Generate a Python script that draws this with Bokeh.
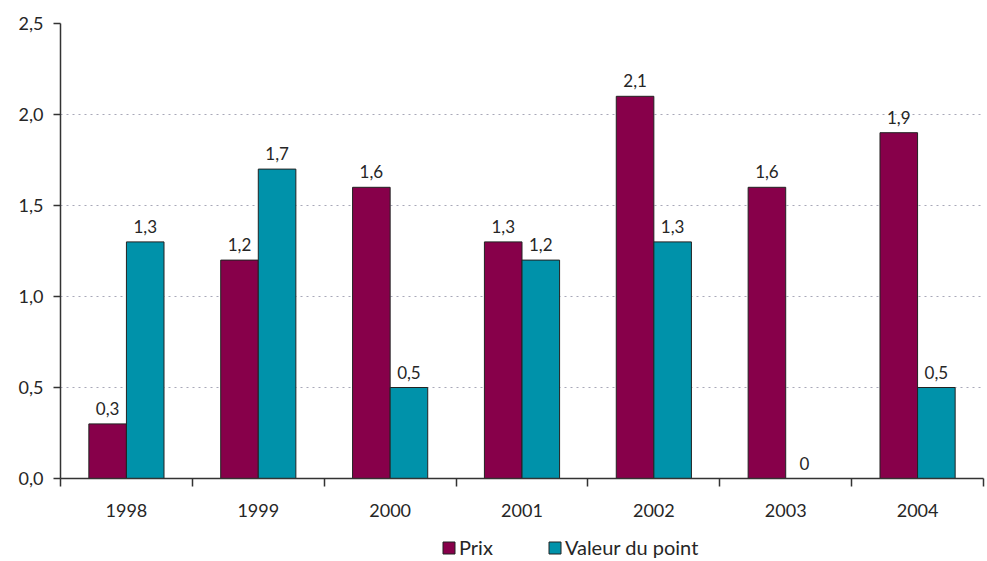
from bokeh.plotting import figure
from bokeh.layouts import column
from bokeh.models import ColumnDataSource, FixedTicker, Range1d, Legend, LegendItem
from bokeh.embed import file_html
from bokeh.resources import INLINE
from bokeh.core.properties import value

years = ["1998", "1999", "2000", "2001", "2002", "2003", "2004"]
prix = [0.3, 1.2, 1.6, 1.3, 2.1, 1.6, 1.9]
valeur = [1.3, 1.7, 0.5, 1.2, 1.3, 0.0, 0.5]
y_ticks = [0.0, 0.5, 1.0, 1.5, 2.0, 2.5]

FONT = "Lato"
MAROON = "#87004A"
TEAL = "#0092AA"
TXT = "#262626"
BW = 0.285

def fmt(v):
    return ("%.1f" % v).replace(".", ",") if v != 0 else "0"

centers = [i + 0.5 for i in range(len(years))]
src = ColumnDataSource(dict(
    xp=[c - BW / 2 for c in centers],
    xv=[c + BW / 2 for c in centers],
    prix=prix, valeur=valeur,
    lp=[fmt(v) for v in prix], lv=[fmt(v) for v in valeur],
))

p = figure(width=985, height=528, output_backend="svg", toolbar_location=None,
           x_range=Range1d(0, len(years)), y_range=Range1d(0, 2.5),
           min_border_left=60, min_border_top=23, min_border_right=2, min_border_bottom=50)
p.outline_line_color = None
p.xgrid.grid_line_color = None
p.ygrid.grid_line_color = "#A8A8B8"
p.ygrid.grid_line_dash = "2 4"
p.ygrid.grid_line_width = 1.2

style = dict(line_color="#222222", line_width=1)
p.vbar(x="xp", top="prix", width=BW, source=src, fill_color=MAROON, **style)
p.vbar(x="xv", top="valeur", width=BW, source=src, fill_color=TEAL, **style)

for x, y, t in [("xp", "prix", "lp"), ("xv", "valeur", "lv")]:
    p.text(x=x, y=y, text=t, source=src, text_align="center", text_baseline="bottom",
           y_offset=-9, text_font=value(FONT), text_font_size="17px", text_color=TXT)

# x axis
p.xaxis.ticker = FixedTicker(ticks=centers, minor_ticks=list(range(len(years) + 1)))
p.xaxis.major_label_overrides = {c: y for c, y in zip(centers, years)}
p.xaxis.major_tick_line_color = None
p.xaxis.minor_tick_out = 8
p.xaxis.minor_tick_in = 0
p.xaxis.minor_tick_line_color = "#333333"
p.xaxis.minor_tick_line_width = 1.5
p.xaxis.axis_line_color = "#333333"
p.xaxis.axis_line_width = 1.5
p.xaxis.major_label_standoff = 17
p.xaxis.major_label_text_font = FONT
p.xaxis.major_label_text_font_size = "18px"
p.xaxis.major_label_text_color = TXT

# y axis
p.yaxis.ticker = FixedTicker(ticks=y_ticks)
p.yaxis.major_label_overrides = {v: ("%.1f" % v).replace(".", ",") for v in y_ticks}
p.yaxis.minor_tick_line_color = None
p.yaxis.major_tick_out = 7
p.yaxis.major_tick_in = 0
p.yaxis.major_tick_line_color = "#333333"
p.yaxis.major_tick_line_width = 1.5
p.yaxis.axis_line_color = "#333333"
p.yaxis.axis_line_width = 1.5
p.yaxis.major_label_standoff = 10
p.yaxis.major_label_text_font = FONT
p.yaxis.major_label_text_font_size = "18px"
p.yaxis.major_label_text_color = TXT

# legend strip (separate small figure; its bars lie outside its visible range)
lg = figure(width=985, height=33, output_backend="svg", toolbar_location=None,
            x_range=Range1d(0, len(years)), y_range=Range1d(10, 11),
            min_border=0, x_axis_type=None, y_axis_type=None)
lg.outline_line_color = None
lg.grid.grid_line_color = None
rp = lg.vbar(x="xp", top="prix", width=BW, source=src, fill_color=MAROON, **style)
rv = lg.vbar(x="xv", top="valeur", width=BW, source=src, fill_color=TEAL, **style)
legend = Legend(items=[LegendItem(label="Prix", renderers=[rp]),
                       LegendItem(label="Valeur du point", renderers=[rv])],
                orientation="horizontal", location=(381, 2),
                label_text_font=FONT, label_text_font_size="20px", label_text_color=TXT,
                glyph_width=15, glyph_height=15, spacing=54, label_standoff=3,
                border_line_color=None, background_fill_alpha=0, padding=0, margin=0)
lg.add_layout(legend, "center")

open("out.html", "w").write(file_html(column(p, lg), INLINE))
